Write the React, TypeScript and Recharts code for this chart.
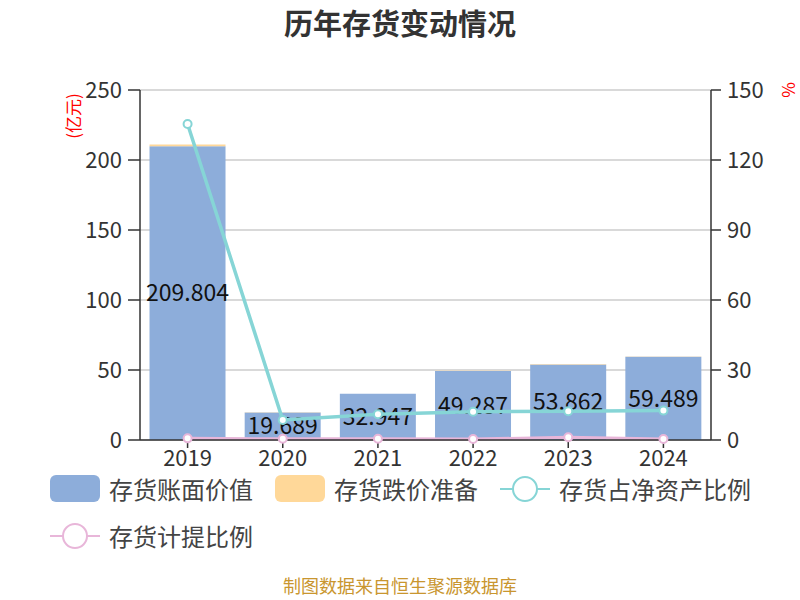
import { ComposedChart, Bar, Line, XAxis, YAxis, CartesianGrid, LabelList } from 'recharts'

const FONT = '"Noto Sans CJK SC", "Noto Sans", sans-serif'
const BLUE = '#8DADDA'
const ORANGE = '#FFD899'
const TEAL = '#86D5D6'
const PINK = '#E8B6D9'
const AXIS = '#333333'

const years = ['2019', '2020', '2021', '2022', '2023', '2024']
const bookValue = [209.804, 19.689, 32.947, 49.287, 53.862, 59.489]
const provision = [1.3, 0.1, 0.1, 0.2, 0.5, 0.1]
const netAssetRatio = [135.4, 8.6, 11.0, 12.1, 12.3, 12.6]
const provisionRatio = [0.7, 0.5, 0.5, 0.4, 1.2, 0.4]
const leftTicks = [0, 50, 100, 150, 200, 250]
const rightTicks = [0, 30, 60, 90, 120, 150]

const data = years.map((y, i) => ({
  year: y,
  book: bookValue[i],
  prov: provision[i],
  ratio: netAssetRatio[i],
  provRatio: provisionRatio[i],
}))

const tickStyle = { fontSize: 22, fill: AXIS, fontFamily: FONT }

function BoxIcon({ color }: { color: string }) {
  return <span style={{ display: 'inline-block', width: 50, height: 27, borderRadius: 6, background: color }} />
}

function LineIcon({ color }: { color: string }) {
  return (
    <svg width={50} height={30} style={{ display: 'block' }}>
      <line x1={0} y1={15} x2={50} y2={15} stroke={color} strokeWidth={2} />
      <circle cx={25} cy={15} r={12} fill="#fff" stroke={color} strokeWidth={2} />
    </svg>
  )
}

function LegendItem({ x, y, icon, label }: { x: number; y: number; icon: React.ReactNode; label: string }) {
  return (
    <div style={{ position: 'absolute', left: x, top: y, display: 'flex', alignItems: 'center', gap: 9, fontSize: 24, color: '#444', fontFamily: FONT, whiteSpace: 'nowrap' }}>
      {icon}
      <span>{label}</span>
    </div>
  )
}

export default function App() {
  return (
    <div style={{ position: 'absolute', left: 0, top: 0, width: 800, height: 600, background: '#fff', fontFamily: FONT }}>
      <div style={{ position: 'absolute', left: 0, top: 0, width: 800, textAlign: 'center', fontSize: 29, lineHeight: '44px', fontWeight: 'bold', color: '#333' }}>
        历年存货变动情况
      </div>
      <div style={{ position: 'absolute', left: 72, top: 116, transform: 'translate(-50%, -50%) rotate(-90deg)', color: 'red', fontSize: 17, whiteSpace: 'nowrap' }}>
        (亿元)
      </div>
      <div style={{ position: 'absolute', left: 787, top: 90, transform: 'translate(-50%, -50%) rotate(-90deg)', color: 'red', fontSize: 17 }}>
        %
      </div>
      <ComposedChart width={800} height={600} data={data} margin={{ top: 90, right: 29, bottom: 130, left: 80 }} barCategoryGap="10%">
        <CartesianGrid vertical={false} stroke="#cccccc" strokeWidth={1.5} yAxisId="left" />
        <XAxis dataKey="year" height={30} tick={tickStyle} tickSize={8} tickMargin={2} axisLine={{ stroke: AXIS, strokeWidth: 1.5 }} tickLine={{ stroke: AXIS, strokeWidth: 1.5 }} interval={0} />
        <YAxis yAxisId="left" width={60} domain={[0, 250]} ticks={leftTicks} tick={tickStyle} tickSize={12} tickMargin={6} axisLine={{ stroke: AXIS, strokeWidth: 1.5 }} tickLine={{ stroke: AXIS, strokeWidth: 1.5 }} />
        <YAxis yAxisId="right" orientation="right" width={60} domain={[0, 150]} ticks={rightTicks} tick={tickStyle} tickSize={10} tickMargin={6} axisLine={{ stroke: AXIS, strokeWidth: 1.5 }} tickLine={{ stroke: AXIS, strokeWidth: 1.5 }} />
        <Bar yAxisId="left" dataKey="book" stackId="a" fill={BLUE} isAnimationActive={false}>
          <LabelList dataKey="book" position="center" zIndex={350} style={{ fontSize: 23, fill: '#111', fontFamily: FONT }} />
        </Bar>
        <Bar yAxisId="left" dataKey="prov" stackId="a" fill={ORANGE} isAnimationActive={false} />
        <Line yAxisId="right" type="linear" dataKey="provRatio" stroke={PINK} strokeWidth={3} dot={{ r: 4, fill: '#fff', stroke: PINK, strokeWidth: 2 }} isAnimationActive={false} />
        <Line yAxisId="right" type="linear" dataKey="ratio" stroke={TEAL} strokeWidth={3.5} dot={{ r: 4, fill: '#fff', stroke: TEAL, strokeWidth: 2 }} isAnimationActive={false} />
      </ComposedChart>
      <LegendItem x={50} y={471} icon={<BoxIcon color={BLUE} />} label="存货账面价值" />
      <LegendItem x={275} y={471} icon={<BoxIcon color={ORANGE} />} label="存货跌价准备" />
      <LegendItem x={500} y={471} icon={<LineIcon color={TEAL} />} label="存货占净资产比例" />
      <LegendItem x={50} y={518} icon={<LineIcon color={PINK} />} label="存货计提比例" />
      <div style={{ position: 'absolute', left: 0, top: 572, width: 800, textAlign: 'center', fontSize: 18, color: '#C9962F' }}>
        制图数据来自恒生聚源数据库
      </div>
    </div>
  )
}
